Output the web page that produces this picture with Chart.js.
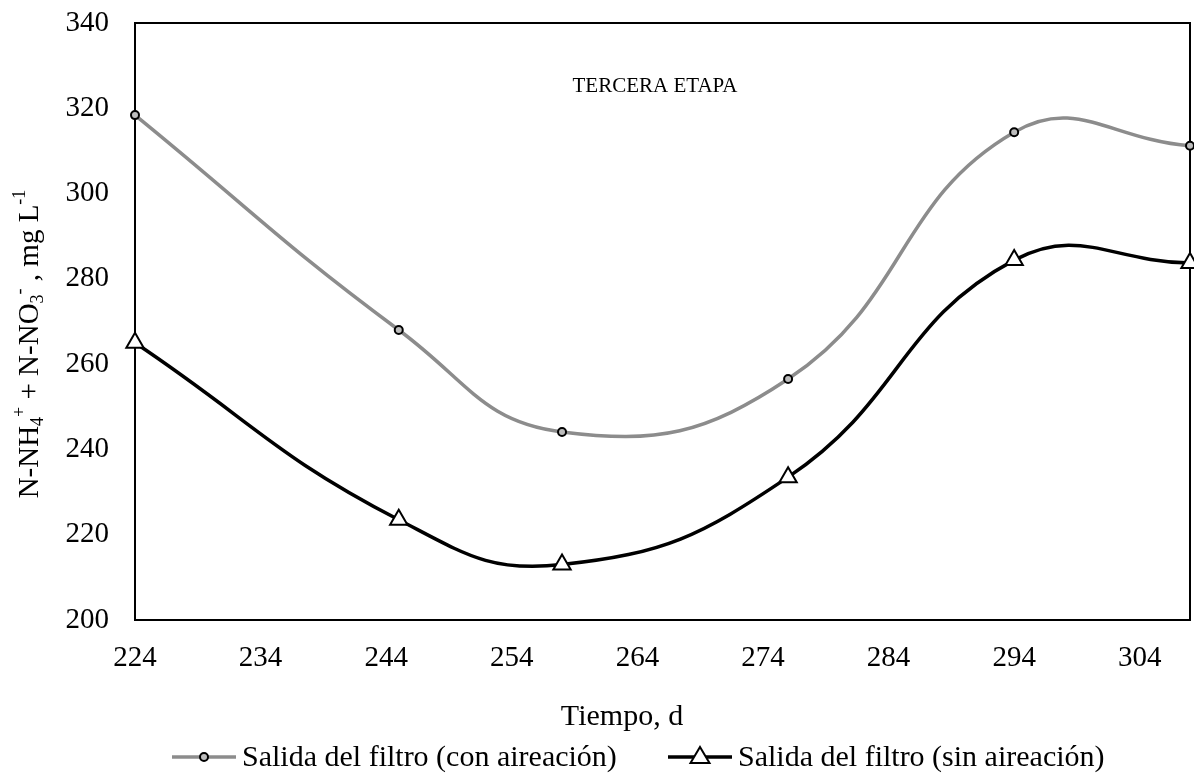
<!DOCTYPE html>
<html>
<head>
<meta charset="utf-8">
<script src="https://cdn.jsdelivr.net/npm/chart.js@4/dist/chart.umd.min.js"></script>
<style>
  html, body { margin: 0; padding: 0; background: #fff; }
  #wrap { width: 1194px; height: 781px; }
</style>
</head>
<body>
<div id="wrap"><canvas id="chart" width="1194" height="781"></canvas></div>
<script>
// datos
const dias = [224, 245, 258, 276, 294, 308];
const conAireacion = [318.4, 268.0, 244.1, 256.5, 314.4, 311.2];
const sinAireacion = [265.0, 223.5, 213.0, 233.5, 284.4, 283.7];
const xTicks = [224, 234, 244, 254, 264, 274, 284, 294, 304];
const yTicks = [200, 220, 240, 260, 280, 300, 320, 340];
const serieNombres = ["Salida del filtro (con aireación)", "Salida del filtro (sin aireación)"];
const tituloEtapa = "TERCERA ETAPA";
const tituloX = "Tiempo, d";

const FONT = "'Liberation Serif', 'Times New Roman', serif";
const GRIS = "#8c8c8c";

const toPoints = (ys) => dias.map((d, i) => ({ x: d, y: ys[i] }));

// caja alrededor del area de trazado (debajo de los puntos)
const caja = {
  id: "caja",
  beforeDatasetsDraw(chart) {
    const { ctx, chartArea: a } = chart;
    ctx.save();
    ctx.strokeStyle = "#000";
    ctx.lineWidth = 2;
    ctx.strokeRect(a.left, a.top, a.right - a.left, a.bottom - a.top);
    ctx.restore();
  }
};

function triangle(ctx, x, y, r) {
  ctx.beginPath();
  ctx.moveTo(x, y - r);
  ctx.lineTo(x + r * 0.95, y + r * 0.6);
  ctx.lineTo(x - r * 0.95, y + r * 0.6);
  ctx.closePath();
}

const textos = {
  id: "textos",
  afterDraw(chart) {
    const { ctx } = chart;
    ctx.save();
    ctx.fillStyle = "#000";

    // titulo dentro del grafico
    ctx.font = "21px " + FONT;
    ctx.textAlign = "center";
    ctx.textBaseline = "middle";
    ctx.fillText(tituloEtapa, 655, 86);

    // titulo eje x
    ctx.font = "30px " + FONT;
    ctx.fillText(tituloX, 622, 717);

    // titulo eje y con sub/superindices (secuenciales)
    const size = 29, small = 18;
    const parts = [["N-NH", 0], ["4", -1], ["+", 1], [" + N-NO", 0], ["3", -1], ["-", 1], [" , mg L", 0], ["-1", 1]];
    let total = 0;
    const ws = parts.map(([t, k]) => {
      ctx.font = (k === 0 ? size : small) + "px " + FONT;
      const w = ctx.measureText(t).width;
      total += w;
      return w;
    });
    ctx.translate(30, 344);
    ctx.rotate(-Math.PI / 2);
    ctx.textAlign = "left";
    ctx.textBaseline = "middle";
    let x = -total / 2;
    parts.forEach(([t, k], i) => {
      ctx.font = (k === 0 ? size : small) + "px " + FONT;
      const dy = k === -1 ? 8 : k === 1 ? -10 : 0;
      ctx.fillText(t, x, dy);
      x += ws[i];
    });
    ctx.restore();

    // leyenda
    ctx.save();
    ctx.font = "30px " + FONT;
    ctx.textBaseline = "middle";
    ctx.textAlign = "left";
    const ly = 757;
    const items = [
      { x: 172, color: GRIS, style: "circle" },
      { x: 668, color: "#000", style: "triangle" }
    ];
    items.forEach((it, i) => {
      const ds = chart.data.datasets[i];
      ctx.strokeStyle = it.color;
      ctx.lineWidth = 3.5;
      ctx.beginPath();
      ctx.moveTo(it.x, ly);
      ctx.lineTo(it.x + 64, ly);
      ctx.stroke();
      ctx.fillStyle = ds.pointBackgroundColor;
      ctx.strokeStyle = ds.pointBorderColor;
      ctx.lineWidth = ds.pointBorderWidth;
      if (it.style === "circle") {
        ctx.beginPath();
        ctx.arc(it.x + 32, ly, ds.pointRadius, 0, Math.PI * 2);
      } else {
        triangle(ctx, it.x + 32, ly, ds.pointRadius);
      }
      ctx.fill();
      ctx.stroke();
      ctx.fillStyle = "#000";
      ctx.fillText(serieNombres[i], it.x + 70, ly + 1);
    });
    ctx.restore();
  }
};

new Chart(document.getElementById("chart"), {
  type: "scatter",
  data: {
    datasets: [
      {
        label: serieNombres[0],
        data: toPoints(conAireacion),
        showLine: true,
        borderColor: GRIS,
        borderWidth: 3.5,
        tension: 0.45,
        pointStyle: "circle",
        pointRadius: 4,
        pointBackgroundColor: "#bdbdbd",
        pointBorderColor: "#000",
        pointBorderWidth: 2,
        clip: false
      },
      {
        label: serieNombres[1],
        data: toPoints(sinAireacion),
        showLine: true,
        borderColor: "#000",
        borderWidth: 3.5,
        tension: 0.45,
        pointStyle: "triangle",
        pointRadius: 10,
        pointBackgroundColor: "#fff",
        pointBorderColor: "#000",
        pointBorderWidth: 2,
        clip: false
      }
    ]
  },
  options: {
    responsive: false,
    animation: false,
    layout: { autoPadding: false, padding: { left: 0, top: 23, right: 4, bottom: 0 } },
    plugins: {
      legend: { display: false },
      tooltip: { enabled: false }
    },
    scales: {
      x: {
        type: "linear",
        min: 224,
        max: 308,
        afterBuildTicks: (s) => { s.ticks = xTicks.map(v => ({ value: v })); },
        afterFit: (s) => { s.height = 161; s.paddingLeft = 0; s.paddingRight = 0; },
        grid: { display: false, drawTicks: false },
        border: { display: true, color: "#000", width: 2 },
        ticks: { color: "#000", padding: 21, maxRotation: 0, autoSkip: false, font: { family: FONT, size: 29 } }
      },
      y: {
        min: 200,
        max: 340,
        afterBuildTicks: (s) => { s.ticks = yTicks.map(v => ({ value: v })); },
        afterFit: (s) => { s.width = 135; s.paddingTop = 0; s.paddingBottom = 0; },
        grid: { display: false, drawTicks: false },
        border: { display: true, color: "#000", width: 2 },
        ticks: { color: "#000", padding: 26, font: { family: FONT, size: 29 } }
      }
    }
  },
  plugins: [caja, textos]
});
</script>
</body>
</html>
